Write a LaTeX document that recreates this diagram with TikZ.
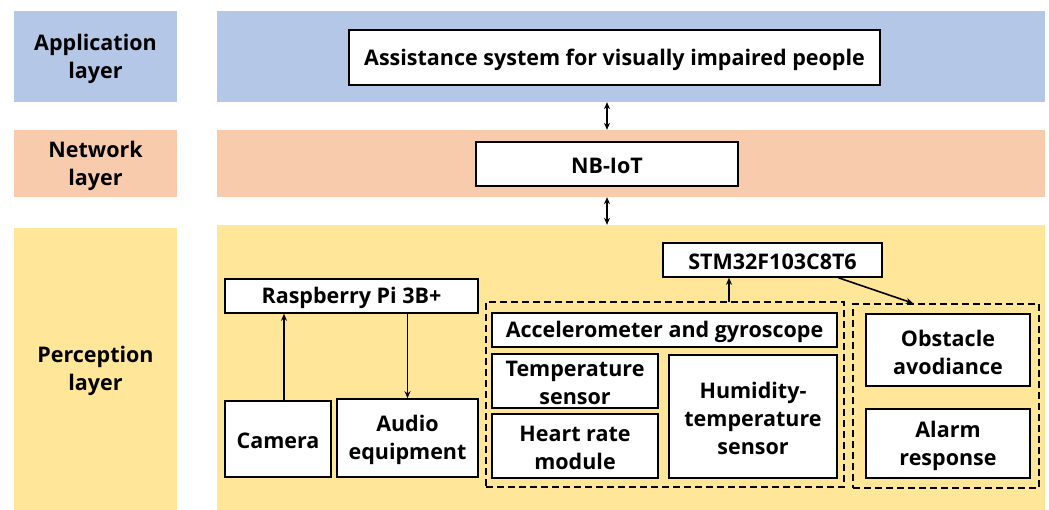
\documentclass[tikz,border=0pt]{standalone}
\usepackage{fontspec}
\setmainfont{Open Sans}
\usetikzlibrary{arrows.meta}
\definecolor{appc}{HTML}{B4C7E7}
\definecolor{netc}{HTML}{F8CBAD}
\definecolor{perc}{HTML}{FFE699}
\tikzset{
  txt/.style={inner sep=0pt, align=center, yshift=-2pt, font=\fontsize{21.5}{28}\selectfont\bfseries},
  band/.style={fill=#1, draw=none, inner sep=0pt},
  box/.style={draw, fill=white, line width=1.6pt, inner sep=0pt},
  dbox/.style={draw, dash pattern=on 7pt off 4pt, line width=1.6pt, inner sep=0pt},
  arr/.style={line width=1.6pt, -{Stealth[length=7pt,width=6pt]}},
  darr/.style={line width=1.6pt, {Stealth[length=7pt,width=6pt]}-{Stealth[length=7pt,width=6pt]}},
}
\newcommand\placebox[7]{\node[#1, minimum width={#5pt-#3pt}, minimum height={#6pt-#4pt}, label={[txt]center:#7}] (#2) at ({(#3+#5)/2},{(#4+#6)/2}) {};}
\newcommand\placeplain[6]{\node[#1, minimum width={#5pt-#3pt}, minimum height={#6pt-#4pt}] (#2) at ({(#3+#5)/2},{(#4+#6)/2}) {};}
\begin{document}
\begin{tikzpicture}[x=1pt,y=-1pt]
\useasboundingbox (0,0) rectangle (1049,510);
% layer labels
\placebox{band=appc}{applab}{14}{11}{177}{102}{Application\\layer}
\placebox{band=netc}{netlab}{14}{130}{177}{197}{Network\\layer}
\placebox{band=perc}{perlab}{14}{228}{177}{510}{Perception\\layer}
% bands
\placeplain{band=appc}{appband}{217}{11}{1045}{102}
\placeplain{band=netc}{netband}{217}{130}{1045}{197}
\placeplain{band=perc}{perband}{217}{225}{1045}{510}
% boxes
\placebox{box}{assist}{349}{30}{880}{85}{Assistance system for visually impaired people}
\placebox{box}{nbiot}{476}{142}{738}{186}{NB-IoT}
\placebox{box}{rpi}{225}{279}{478}{313}{Raspberry Pi 3B+}
\placebox{box}{cam}{225}{401}{331}{477}{Camera}
\placebox{box}{audio}{337}{399}{478}{477}{Audio\\equipment}
\placeplain{dbox}{dash1}{486}{302}{844}{487}
\placeplain{dbox}{dash2}{853}{304}{1039}{488}
\placebox{box}{acc}{492}{313}{837}{347}{Accelerometer and gyroscope}
\placebox{box}{temp}{492}{354}{658}{408}{Temperature\\sensor}
\placebox{box}{heart}{492}{414}{658}{478}{Heart rate\\module}
\placebox{box}{humid}{669}{355}{837}{478}{Humidity-\\temperature\\sensor}
\placebox{box}{obst}{866}{314}{1030}{386}{Obstacle\\avodiance}
\placebox{box}{alarm}{866}{409}{1030}{478}{Alarm\\response}
\placebox{box}{stm}{663}{243}{882}{277}{STM32F103C8T6}
% connectors
\draw[darr] (nbiot.north |- appband.south) -- (nbiot.north |- netband.north);
\draw[darr] (nbiot.south |- netband.south) -- (nbiot.south |- perband.north);
\draw[arr] ([xshift=6]cam.north) -- ([xshift=6]cam.north |- rpi.south);
\draw[arr] (audio.north |- rpi.south) -- (audio.north);
\coordinate (up) at (729,302);
\draw[arr] (up) -- (up |- stm.south);
\draw[arr] ([xshift=66]stm.south) -- ([xshift=-33]dash2.north);
\end{tikzpicture}
\end{document}
